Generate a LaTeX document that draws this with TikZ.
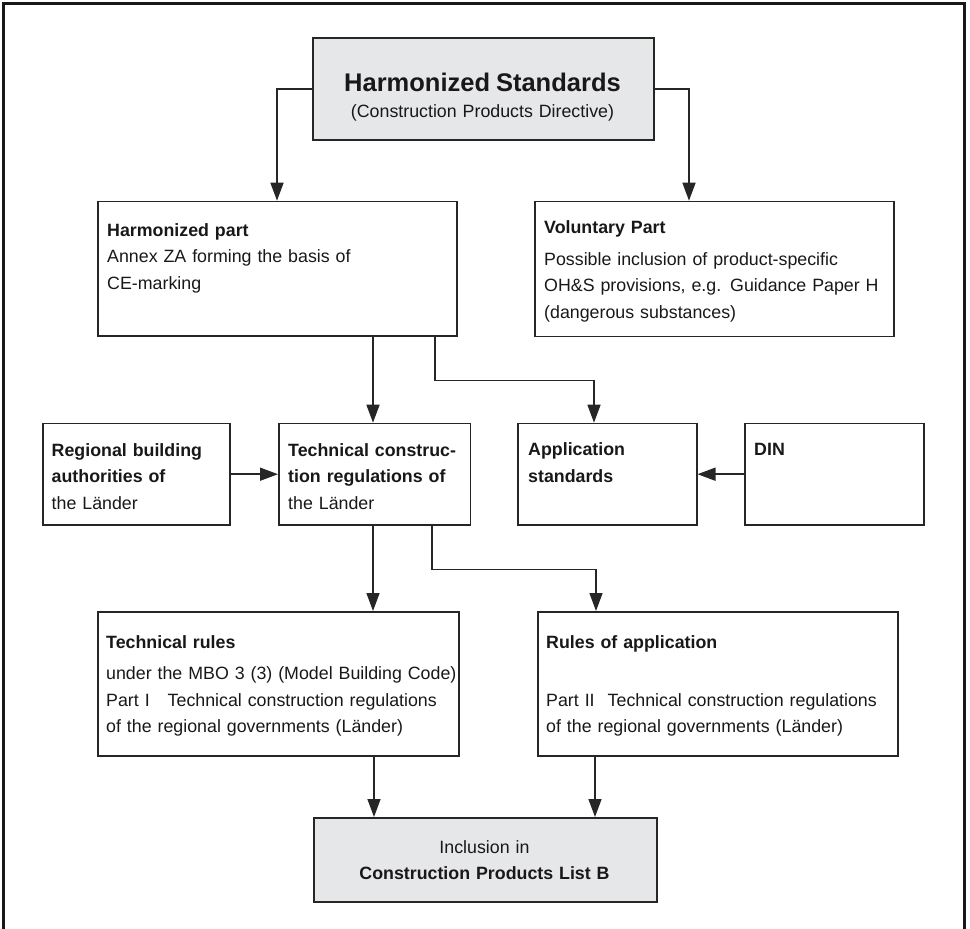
\documentclass[tikz,border=0pt]{standalone}
\usepackage{fontspec}
\setmainfont{Liberation Sans}
\usetikzlibrary{arrows.meta,calc}
\definecolor{inkc}{HTML}{1A1718}
\definecolor{linec}{HTML}{262626}
\definecolor{fillg}{HTML}{E6E7E8}
\newcommand{\bodyfont}{\fontsize{17.8}{26.6}\selectfont}
\tikzset{
  box/.style={draw=linec, line width=1.5pt, rectangle, inner sep=0pt, anchor=north west, minimum width=#1},
  gbox/.style={box=#1, fill=fillg},
  txt/.style={text width=#1, align=left, inner sep=0pt, anchor=base west, font=\bodyfont, text=inkc},
  ctxt/.style={text width=#1, align=center, inner sep=0pt, anchor=base, font=\bodyfont, text=inkc},
  conn/.style={draw=linec, line width=1.5pt, -{Triangle[length=18pt,width=13pt]}},
}
\begin{document}
\begin{tikzpicture}[x=1pt,y=1pt]
\useasboundingbox (0,0) rectangle (970,-929);
% outer frame
\draw[inkc, line width=3pt] (3.5,-929) -- (3.5,-3) -- (964,-3) -- (964,-929);

% boxes
\node[gbox=341pt, minimum height=102pt] (top) at (312,-37) {};
\node[box=359pt, minimum height=134.5pt] (hp) at (97,-200.7) {};
\node[box=359pt, minimum height=135pt] (vp) at (534,-200.7) {};
\node[box=187pt, minimum height=101.5pt] (reg) at (42,-422.7) {};
\node[box=191.5pt, minimum height=101.5pt] (tc) at (278,-422.7) {};
\node[box=179pt, minimum height=101.5pt] (app) at (517,-422.7) {};
\node[box=179pt, minimum height=101.5pt] (din) at (744,-422.7) {};
\node[box=361pt, minimum height=144pt] (tr) at (97,-611) {};
\node[box=360pt, minimum height=144pt] (ra) at (537,-611) {};
\node[gbox=343pt, minimum height=84pt] (bot) at (313,-817) {};

% texts
\node[ctxt=330pt] (toptxt) at (482.5,-91) {{\fontsize{25.5}{23}\selectfont\bfseries Harmonized Standards}\\(Construction Products Directive)};
\node[txt=340pt] (hptxt) at (107,-236) {\textbf{Harmonized part}\\Annex ZA forming the basis of\\CE-marking};
\node[txt=345pt] (vptxt) at (544,-233.5) {\textbf{Voluntary Part}\\[5pt]Possible inclusion of product-specific\\OH\&S provisions, e.g. Guidance Paper H\\(dangerous substances)};
\node[txt=175pt] (regtxt) at (51.5,-456) {\textbf{Regional building}\\\textbf{authorities of}\\the Länder};
\node[txt=180pt] (tctxt) at (288,-456) {\textbf{Technical construc-}\\\textbf{tion regulations of}\\the Länder};
\node[txt=170pt] (apptxt) at (528,-455.5) {\textbf{Application}\\\textbf{standards}};
\node[txt=160pt] (dintxt) at (754,-455.5) {\textbf{DIN}};
\node[txt=352pt] (trtxt) at (106,-648) {\textbf{Technical rules}\\[5pt]under the MBO 3 (3) (Model Building Code)\\\makebox[61.5pt][l]{Part I}Technical construction regulations\\of the regional governments (Länder)};
\node[txt=350pt] (ratxt) at (546,-648) {\textbf{Rules of application}\\[5pt]\mbox{}\\\makebox[61.5pt][l]{Part II}Technical construction regulations\\of the regional governments (Länder)};
\node[ctxt=330pt] (bottxt) at (484.5,-853) {Inclusion in\\\textbf{Construction Products List B}};

% connectors
\draw[conn] (top.west) -| ([xshift=180pt]hp.north west);
\draw[conn] (top.east) -| ([xshift=155pt]vp.north west);
\draw[conn] ([xshift=276pt]hp.south west) coordinate (h1) -- (h1 |- tc.north);
\draw[conn] ([xshift=338pt]hp.south west) -- ++(0,-44) -| ([xshift=77pt]app.north west);
\draw[conn] (reg.east) -- (tc.west);
\draw[conn] (din.west) -- (app.east);
\draw[conn] ([xshift=95pt]tc.south west) coordinate (t1) -- (t1 |- tr.north);
\draw[conn] ([xshift=154pt]tc.south west) -- ++(0,-44) -| ([xshift=59pt]ra.north west);
\draw[conn] ([xshift=277pt]tr.south west) coordinate (b1) -- (b1 |- bot.north);
\draw[conn] ([xshift=58pt]ra.south west) coordinate (b2) -- (b2 |- bot.north);
\end{tikzpicture}
\end{document}
